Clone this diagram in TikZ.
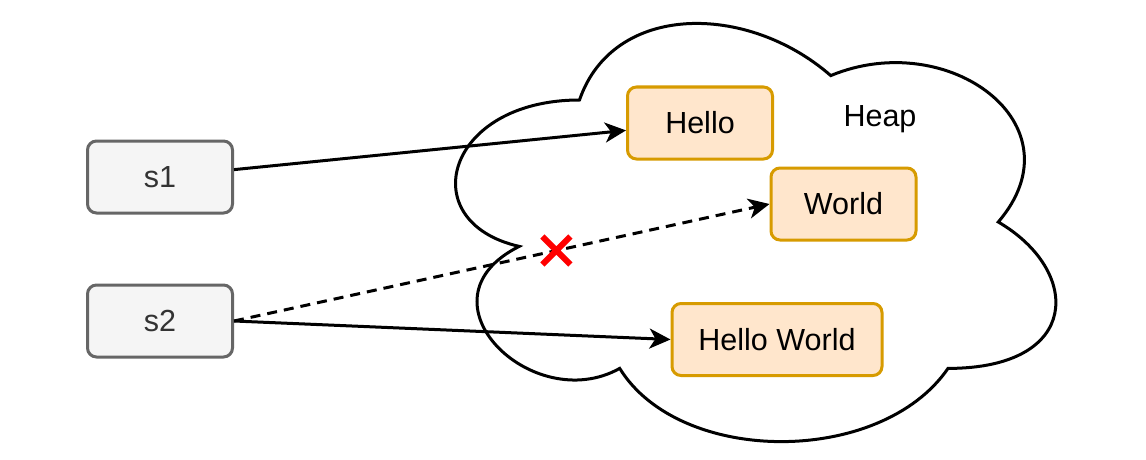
\documentclass[tikz,border=0pt]{standalone}
\usepackage{fontspec}
\setmainfont{Liberation Sans}
\usetikzlibrary{arrows.meta,shapes.misc}
\definecolor{grayfill}{HTML}{F5F5F5}
\definecolor{graystroke}{HTML}{666666}
\definecolor{graytext}{HTML}{333333}
\definecolor{orfill}{HTML}{FFE6CC}
\definecolor{orstroke}{HTML}{D79B00}
\definecolor{xred}{HTML}{FF0000}
\tikzset{
  lbl/.style={font=\fontsize{30.5}{34}\selectfont},
  varbox/.style={lbl, draw=graystroke, fill=grayfill, text=graytext, line width=3pt,
    rounded corners=9pt, minimum width=145pt, minimum height=72pt},
  heapbox/.style={lbl, draw=orstroke, fill=orfill, text=black, line width=3pt,
    rounded corners=9pt, minimum height=72pt, inner xsep=0pt},
  ref/.style={line width=3pt, -{Stealth[length=21pt,width=20pt,inset=6pt]}},
  lost/.style={ref, dash pattern=on 10pt off 7pt},
  redx/.style={cross out, draw=xred, solid, line width=6pt, minimum size=22pt, inner sep=0pt},
  cloudline/.style={draw=black, fill=white, line width=3pt},
}
\begin{document}
\begin{tikzpicture}[x=1pt,y=-1pt]
\useasboundingbox (0,0) rectangle (1146,460);
% cloud (heap)
\begin{scope}[shift={(412,-22)}, x=670pt, y=-488pt]
\path[cloudline] (0.25,0.25) .. controls (0.05,0.25) and (0,0.5) .. (0.16,0.55)
  .. controls (0,0.66) and (0.18,0.9) .. (0.31,0.8)
  .. controls (0.4,1) and (0.7,1) .. (0.8,0.8)
  .. controls (1,0.8) and (1,0.6) .. (0.875,0.5)
  .. controls (1,0.3) and (0.8,0.1) .. (0.625,0.2)
  .. controls (0.5,0.05) and (0.3,0.05) .. (0.25,0.25) -- cycle;
\end{scope}
\node[lbl] (heap) at (880,119) {Heap};
% variables
\node[varbox] (s1) at (160,177) {s1};
\node[varbox] (s2) at (160,321) {s2};
% heap objects
\node[heapbox, minimum width=145pt] (hello) at (700,123) {Hello};
\node[heapbox, minimum width=145pt] (world) at (843.5,204) {World};
\node[heapbox, minimum width=210pt] (hw) at (777,339.5) {Hello World};
% references
\draw[ref] (s1) -- (hello);
\draw[lost] (s2.east) -- node[pos=0.602, redx] (cut) {} (world.west);
\draw[ref] (s2.east) -- (hw.west);
\end{tikzpicture}
\end{document}
